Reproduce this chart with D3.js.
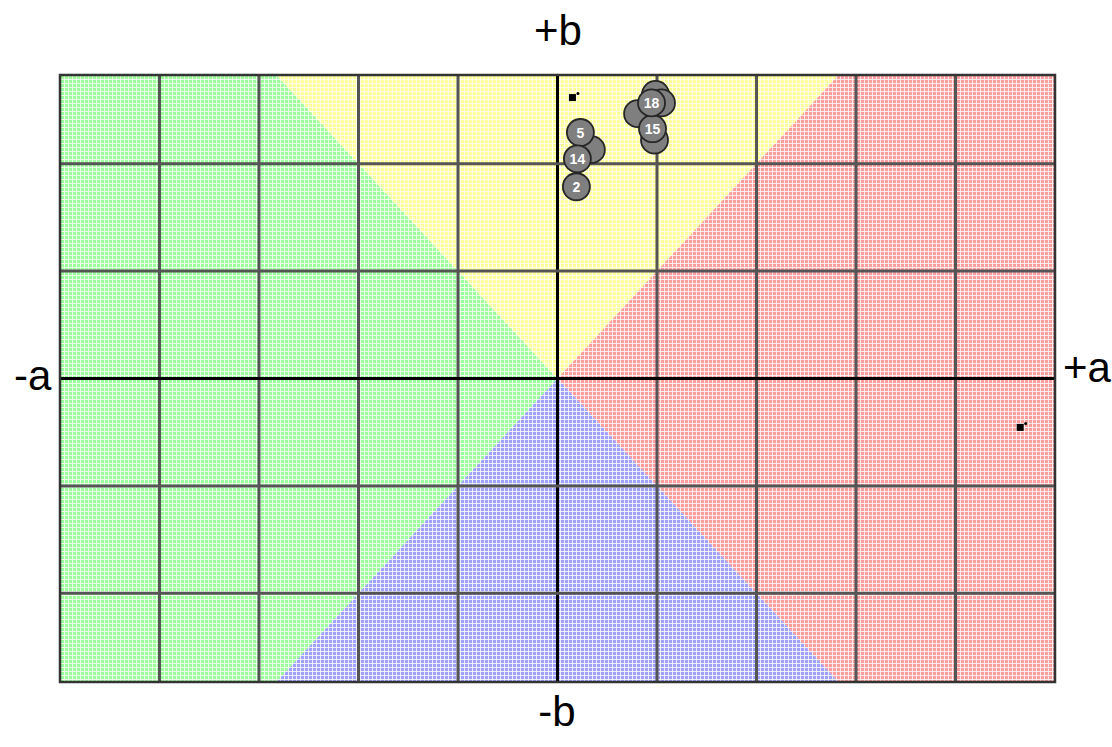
<!DOCTYPE html>
<html lang="en">
<head>
  <meta charset="UTF-8">
  <title>a*b* plane</title>
  <script src="https://d3js.org/d3.v7.min.js"></script>
  <style>
    * { margin: 0; padding: 0; box-sizing: border-box; }
    body { background: #fff; font-family: "Liberation Sans", Arial, sans-serif; }
    .axis-label { font-size: 42px; fill: #000; }
    .pt-label { font-size: 14px; font-weight: bold; fill: #fff; text-anchor: middle; }
  </style>
</head>
<body>
  <div id="chart"></div>
  <script>
    // grid ticks (a* and b*)
    const aTicks = [-80, -60, -40, -20, 0, 20, 40, 60, 80];
    const bTicks = [-40, -20, 0, 20, 40];
    const aDomain = [-100, 100];
    const bDomain = [-56.5, 56.5];

    // samples; empty label = circle hidden under others
    const sampleLabels = ["", "", "", "", "", "2", "5", "14", "15", "18"];
    const sampleA = [6.8, 16.1, 19.7, 20.9, 19.5, 3.8, 4.6, 4.0, 19.1, 18.9];
    const sampleB = [42.6, 49.3, 52.9, 51.3, 44.4, 35.7, 45.8, 40.9, 46.5, 51.3];

    // small reference markers
    const markerA = [3.0, 93.0];
    const markerB = [52.3, -9.1];

    const margin = {top: 75, right: 57, bottom: 65, left: 60},
          width = 1112 - margin.left - margin.right,
          height = 747 - margin.top - margin.bottom;

    const svg = d3.select("#chart")
                  .append("svg")
                  .attr("width", 1112)
                  .attr("height", 747);

    const g = svg.append("g")
                 .attr("transform", `translate(${margin.left},${margin.top})`);

    const x = d3.scaleLinear().domain(aDomain).range([0, width]);
    const y = d3.scaleLinear().domain(bDomain).range([height, 0]);

    // dithered fills
    const defs = svg.append("defs");
    const fills = {green: "#9cff9c", yellow: "#ffff9c", red: "#ff9c9c", blue: "#a0a0ff"};
    Object.entries(fills).forEach(([name, c]) => {
      const p = defs.append("pattern")
                    .attr("id", "pat-" + name)
                    .attr("patternUnits", "userSpaceOnUse")
                    .attr("width", 4).attr("height", 4);
      p.append("rect").attr("width", 4).attr("height", 4).attr("fill", c);
      p.append("rect").attr("width", 4).attr("height", 1).attr("fill", "#fff").attr("opacity", 0.8);
      p.append("rect").attr("width", 1).attr("height", 4).attr("fill", "#fff").attr("opacity", 0.8);
    });

    const m = bDomain[1];
    const wedges = [
      {name: "green",  pts: [[0, 0], [-m, m], [-100, m], [-100, -m], [-m, -m]]},
      {name: "yellow", pts: [[0, 0], [-m, m], [m, m]]},
      {name: "red",    pts: [[0, 0], [m, m], [100, m], [100, -m], [m, -m]]},
      {name: "blue",   pts: [[0, 0], [m, -m], [-m, -m]]}
    ];

    const line = d3.line().x(d => x(d[0])).y(d => y(d[1]));
    g.selectAll(".wedge")
     .data(wedges)
     .enter()
     .append("path")
     .attr("class", "wedge")
     .attr("d", d => line(d.pts) + "Z")
     .attr("fill", d => `url(#pat-${d.name})`)
     .attr("stroke", "none");

    // grid
    g.selectAll(".vgrid")
     .data(aTicks)
     .enter()
     .append("line")
     .attr("x1", d => x(d)).attr("x2", d => x(d))
     .attr("y1", 0).attr("y2", height)
     .attr("stroke", d => d === 0 ? "#000" : "#555")
     .attr("stroke-width", 3);

    g.selectAll(".hgrid")
     .data(bTicks)
     .enter()
     .append("line")
     .attr("x1", 0).attr("x2", width)
     .attr("y1", d => y(d)).attr("y2", d => y(d))
     .attr("stroke", d => d === 0 ? "#000" : "#555")
     .attr("stroke-width", 3);

    g.append("rect")
     .attr("width", width).attr("height", height)
     .attr("fill", "none")
     .attr("stroke", "#333")
     .attr("stroke-width", 2.5);

    // markers
    markerA.forEach((a, i) => {
      g.append("rect")
       .attr("x", x(a) - 3.5).attr("y", y(markerB[i]) - 3.5)
       .attr("width", 7).attr("height", 7)
       .attr("fill", "#000");
      g.append("circle")
       .attr("cx", x(a) + 5.5).attr("cy", y(markerB[i]) - 4)
       .attr("r", 1.5)
       .attr("fill", "#000");
    });

    // samples
    const samples = sampleLabels.map((l, i) => ({label: l, a: sampleA[i], b: sampleB[i]}));
    const pts = g.selectAll(".pt")
                 .data(samples)
                 .enter()
                 .append("g")
                 .attr("class", "pt")
                 .attr("transform", d => `translate(${x(d.a)},${y(d.b)})`);
    pts.append("circle")
       .attr("r", 13.5)
       .attr("fill", "#7f7f7f")
       .attr("stroke", "#262626")
       .attr("stroke-width", 1.8);
    pts.append("text")
       .attr("class", "pt-label")
       .attr("dy", "0.36em")
       .text(d => d.label);

    // axis labels
    svg.append("text").attr("class", "axis-label")
       .attr("x", 558).attr("y", 45).attr("text-anchor", "middle").text("+b");
    svg.append("text").attr("class", "axis-label")
       .attr("x", 557).attr("y", 726).attr("text-anchor", "middle").text("-b");
    svg.append("text").attr("class", "axis-label")
       .attr("x", 14).attr("y", 390).text("-a");
    svg.append("text").attr("class", "axis-label")
       .attr("x", 1063).attr("y", 382).text("+a");
  </script>
</body>
</html>
